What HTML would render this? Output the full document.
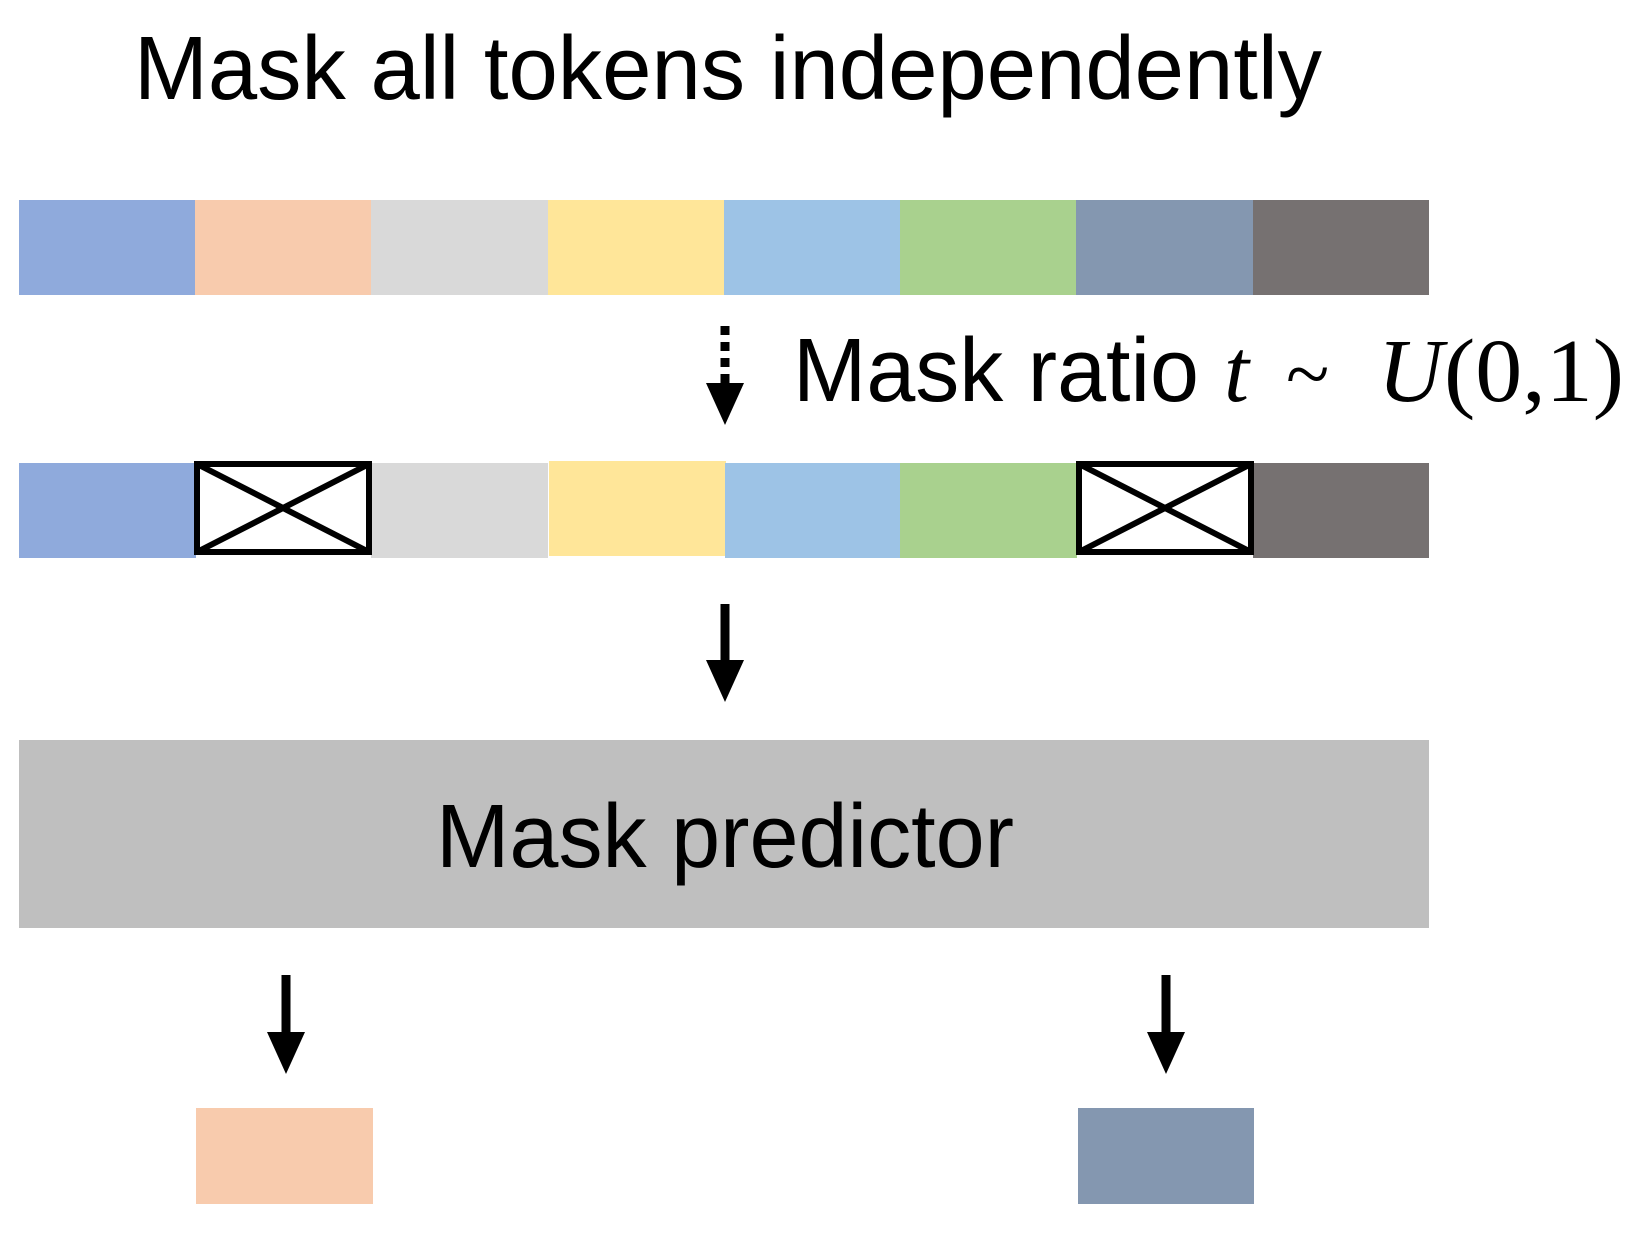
<!DOCTYPE html>
<html><head><meta charset="utf-8"><style>html,body{margin:0;padding:0;background:#fff}svg{display:block}</style></head>
<body>
<svg width="1646" height="1248" viewBox="0 0 1646 1248" xmlns="http://www.w3.org/2000/svg">
<text x="134" y="99" font-family="Liberation Sans, sans-serif" font-size="90" textLength="1188" lengthAdjust="spacingAndGlyphs">Mask all tokens independently</text>
<g>
<rect x="19" y="200" width="177" height="95" fill="#8faadc"/>
<rect x="195" y="200" width="177" height="95" fill="#f8cbad"/>
<rect x="371" y="200" width="177" height="95" fill="#d9d9d9"/>
<rect x="548" y="200" width="177" height="95" fill="#ffe699"/>
<rect x="724" y="200" width="177" height="95" fill="#9dc3e6"/>
<rect x="900" y="200" width="177" height="95" fill="#a9d18e"/>
<rect x="1076" y="200" width="177" height="95" fill="#8497b0"/>
<rect x="1253" y="200" width="176" height="95" fill="#767171"/>
</g>
<line x1="725" y1="326" x2="725" y2="383" stroke="#000" stroke-width="9" stroke-dasharray="9,7"/>
<polygon points="706,383 744,383 725,425" fill="#000"/>
<text x="793" y="401" font-family="Liberation Sans, sans-serif" font-size="90" textLength="406" lengthAdjust="spacingAndGlyphs">Mask ratio</text>
<text x="1224" y="401" font-family="Liberation Serif, serif" font-size="90" font-style="italic">t</text>
<text x="1286" y="401" font-family="Liberation Serif, serif" font-size="80">~</text>
<text x="1378" y="401" font-family="Liberation Serif, serif" font-size="90" font-style="italic">U</text>
<text x="1444" y="401" font-family="Liberation Serif, serif" font-size="90" textLength="180" lengthAdjust="spacingAndGlyphs">(0,1)</text>
<rect x="19" y="463" width="177" height="95" fill="#8faadc"/>
<rect x="371" y="463" width="177" height="95" fill="#d9d9d9"/>
<rect x="549" y="461" width="177" height="95" fill="#ffe699"/>
<rect x="725" y="463" width="177" height="95" fill="#9dc3e6"/>
<rect x="900" y="463" width="177" height="95" fill="#a9d18e"/>
<rect x="1253" y="463" width="176" height="95" fill="#767171"/>
<g fill="#fff" stroke="#000" stroke-width="6">
<rect x="197" y="464" width="172" height="88"/>
<line x1="197" y1="464" x2="369" y2="552"/><line x1="369" y1="464" x2="197" y2="552"/>
<rect x="1079" y="464" width="172" height="88"/>
<line x1="1079" y1="464" x2="1251" y2="552"/><line x1="1251" y1="464" x2="1079" y2="552"/>
</g>
<line x1="725" y1="604" x2="725" y2="662" stroke="#000" stroke-width="9"/>
<polygon points="706,660 744,660 725,702" fill="#000"/>
<rect x="19" y="740" width="1410" height="188" fill="#bfbfbf"/>
<text x="436" y="867" font-family="Liberation Sans, sans-serif" font-size="90" textLength="578" lengthAdjust="spacingAndGlyphs">Mask predictor</text>
<line x1="286" y1="975" x2="286" y2="1034" stroke="#000" stroke-width="9"/>
<polygon points="267,1032 305,1032 286,1074" fill="#000"/>
<line x1="1166" y1="975" x2="1166" y2="1034" stroke="#000" stroke-width="9"/>
<polygon points="1147,1032 1185,1032 1166,1074" fill="#000"/>
<rect x="196" y="1108" width="177" height="96" fill="#f8cbad"/>
<rect x="1078" y="1108" width="176" height="96" fill="#8497b0"/>
</svg>
</body></html>
